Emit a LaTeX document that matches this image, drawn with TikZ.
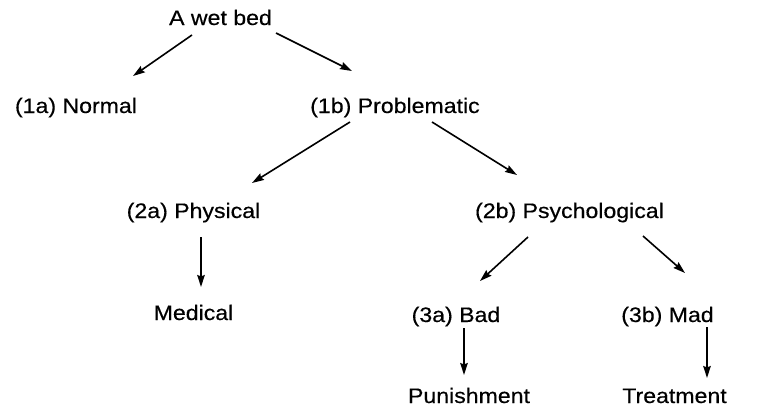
\documentclass[tikz,border=0pt]{standalone}
\usepackage{fontspec}
\newfontfamily\labfont{Liberation Sans}[FakeStretch=1.1,FakeBold=0.4]
\usetikzlibrary{arrows.meta}
\tikzset{
  lab/.style={anchor=base, inner sep=0pt, font=\labfont\fontsize{21}{25}\selectfont},
  arr/.style={line width=1.6pt, -{Stealth[length=12pt,width=7.5pt,inset=1.5pt]}},
}
\begin{document}
\begin{tikzpicture}[x=1pt,y=-1pt]
\useasboundingbox (0,0) rectangle (773,415);
\node[lab] (top)  at (220.5,25) {A wet bed};
\node[lab] (n1a)  at (76,113)   {(1a) Normal};
\node[lab] (n1b)  at (395,113)  {(1b) Problematic};
\node[lab] (n2a)  at (193.5,218) {(2a) Physical};
\node[lab] (n2b)  at (569.5,218) {(2b) Psychological};
\node[lab] (med)  at (193.5,320) {Medical};
\node[lab] (n3a)  at (456,322)  {(3a) Bad};
\node[lab] (n3b)  at (667.5,322) {(3b) Mad};
\node[lab] (pun)  at (469,403)  {Punishment};
\node[lab] (tre)  at (674.5,403) {Treatment};

\draw[arr] ([shift={(-28.5,10)}]top.base) -- ([shift={(57,-37)}]n1a.base);
\draw[arr] ([shift={(55.5,8)}]top.base) -- ([shift={(-43,-42)}]n1b.base);
\draw[arr] ([shift={(-45,9)}]n1b.base) -- ([shift={(58.5,-35)}]n2a.base);
\draw[arr] ([shift={(37,9)}]n1b.base) -- ([shift={(-52.5,-43)}]n2b.base);
\draw[arr] ([shift={(7.5,19)}]n2a.base) -- ([shift={(7.5,-33)}]med.base);
\draw[arr] ([shift={(-41.5,19)}]n2b.base) -- ([shift={(24,-41)}]n3a.base);
\draw[arr] ([shift={(73.5,18)}]n2b.base) -- ([shift={(17.5,-49)}]n3b.base);
\draw[arr] ([shift={(8,6)}]n3a.base) -- ([shift={(-5,-28)}]pun.base);
\draw[arr] ([shift={(39.5,5)}]n3b.base) -- ([shift={(32.5,-25)}]tre.base);
\end{tikzpicture}
\end{document}
